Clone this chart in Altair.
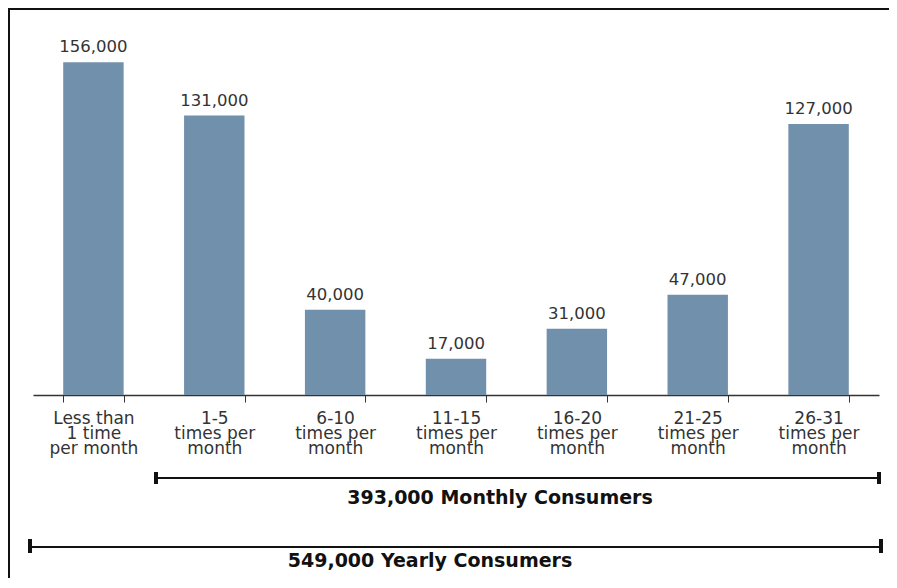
import altair as alt
import pandas as pd

categories = [
    ["Less than", "1 time", "per month"],
    ["1-5", "times per", "month"],
    ["6-10", "times per", "month"],
    ["11-15", "times per", "month"],
    ["16-20", "times per", "month"],
    ["21-25", "times per", "month"],
    ["26-31", "times per", "month"],
]
values = [156000, 131000, 40000, 17000, 31000, 47000, 127000]
value_labels = ["156,000", "131,000", "40,000", "17,000", "31,000", "47,000", "127,000"]
monthly_label = ["393,000 Monthly Consumers"]
yearly_label = ["549,000 Yearly Consumers"]

FONT = "DejaVu Sans"
INK = "#333333"

df = pd.DataFrame({
    "cat": ["|".join(c) for c in categories],
    "value": values,
    "label": value_labels,
})

x = alt.X(
    "cat:N", sort=None,
    scale=alt.Scale(paddingInner=0.5, paddingOuter=0.25),
    axis=alt.Axis(
        title=None, labelAngle=0, labelExpr="split(datum.label, '|')",
        tickBand="extent", tickSize=7, labelPadding=8, domainColor=INK,
        tickColor=INK, labelColor=INK, labelFont=FONT, labelFontSize=17,
        labelLineHeight=15, domainWidth=1.5, tickWidth=1, labelBaseline="top",
        grid=False,
    ),
)
y = alt.Y("value:Q", scale=alt.Scale(domain=[0, 180000]), axis=None)

bars = alt.Chart(df).mark_bar(color="#7190AB").encode(x=x, y=y)
bar_text = alt.Chart(df).mark_text(
    baseline="bottom", dy=-7, fontSize=16.5, font=FONT, color=INK
).encode(x=x, y=y, text="label:N")

one = alt.Data(values=[{"a": 1}])

def rule(x1, x2, y1, y2, w, color="#111111"):
    return alt.Chart(one).mark_rule(color=color, strokeWidth=w).encode(
        x=alt.value(x1), x2=alt.value(x2), y=alt.value(y1), y2=alt.value(y2)
    )

# frame: only its top and left edges fall inside the picture
frame = alt.Chart(one).mark_rect(
    fill=None, fillOpacity=0, stroke="#111111", strokeWidth=2
).encode(x=alt.value(-24), x2=alt.value(1200), y=alt.value(-2), y2=alt.value(1200))

# monthly bracket
m_line = rule(123, 846, 467, 467, 2)
m_cap1 = rule(123, 123, 461, 473, 4)
m_cap2 = rule(846, 846, 461, 473, 4)
m_text = alt.Chart(pd.DataFrame({"t": monthly_label})).mark_text(
    font=FONT, fontSize=19, fontWeight="bold", color="#111111", baseline="alphabetic"
).encode(x=alt.value(467), y=alt.value(493), text="t:N")

# yearly bracket
y_line = rule(-3, 848, 536, 536, 2)
y_cap1 = rule(-3, -3, 528, 542, 4)
y_cap2 = rule(848, 848, 528, 542, 4)
y_text = alt.Chart(pd.DataFrame({"t": yearly_label})).mark_text(
    font=FONT, fontSize=19, fontWeight="bold", color="#111111", baseline="alphabetic"
).encode(x=alt.value(397), y=alt.value(556), text="t:N")

chart = alt.layer(
    bars, bar_text, frame,
    m_line, m_cap1, m_cap2, m_text,
    y_line, y_cap1, y_cap2, y_text,
).properties(
    width=846, height=384,
    autosize=alt.AutoSizeParams(type="none"),
    padding={"left": 25, "top": 3, "right": 10, "bottom": 183},
    background="white",
).configure_view(stroke=None)

chart.save("out.html", embed_options={"renderer": "svg", "actions": False})
